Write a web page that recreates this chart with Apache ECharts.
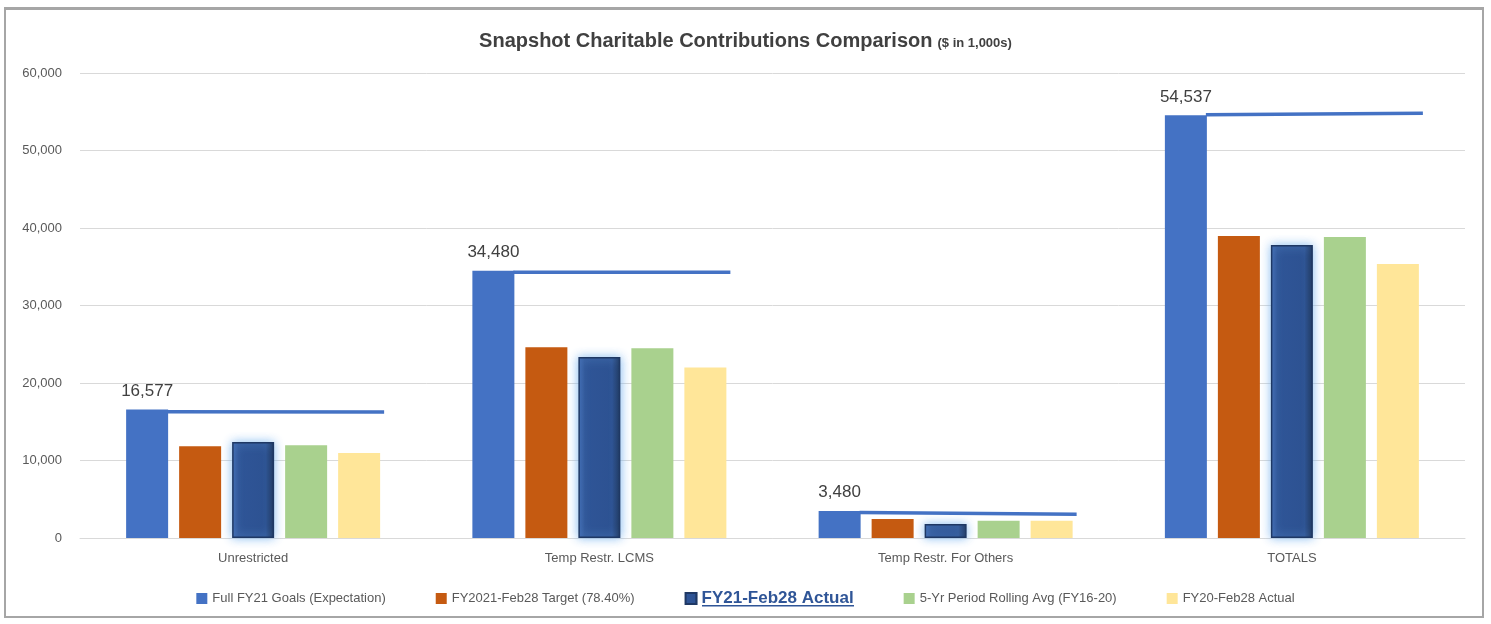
<!DOCTYPE html>
<html>
<head>
<meta charset="utf-8">
<script src="https://cdn.jsdelivr.net/npm/echarts@6/dist/echarts.min.js"></script>
<style>
html,body{margin:0;padding:0;background:#fff;}
#frame{position:absolute;left:4px;top:7px;width:1480px;height:611px;border:2px solid #A6A6A6;border-top-width:3px;box-sizing:border-box;}
#chart{position:absolute;left:0;top:0;width:1491px;height:624px;}
</style>
</head>
<body>
<div id="frame"></div>
<div id="chart"></div>
<script>
const categories = ['Unrestricted', 'Temp Restr. LCMS', 'Temp Restr. For Others', 'TOTALS'];
const seriesNames = ['Full FY21 Goals (Expectation)', 'FY2021-Feb28 Target (78.40%)', 'FY21-Feb28 Actual', '5-Yr Period Rolling Avg (FY16-20)', 'FY20-Feb28 Actual'];
const fullGoals = [16577, 34480, 3480, 54537];
const targetFeb28 = [11830, 24600, 2450, 38970];
const actualFeb28 = [12400, 23350, 1800, 37800];
const rollingAvg = [11960, 24500, 2230, 38840];
const actualFY20 = [10970, 22000, 2230, 35350];
const goalLineStart = [16300, 34300, 3300, 54600];
const goalLineEnd = [16260, 34280, 3050, 54800];
const yTicks = [0, 10000, 20000, 30000, 40000, 50000, 60000];

const chart = echarts.init(document.getElementById('chart'));
const FONT = 'Liberation Sans, Arial, sans-serif';
const BW = 42, GAP = 11;
const groupW = 5 * BW + 4 * GAP;

const actualGradient = new echarts.graphic.LinearGradient(0, 0, 1, 0, [
  {offset: 0, color: '#3d66ad'},
  {offset: 0.15, color: '#2F5597'},
  {offset: 0.8, color: '#2d5292'},
  {offset: 1, color: '#14284d'}
]);

const option = {
  animation: false,
  textStyle: {fontFamily: FONT},
  title: {
    text: '{a|Snapshot Charitable Contributions Comparison} {b|($ in 1,000s)}',
    left: 'center',
    top: 26,
    textStyle: {
      rich: {
        a: {fontFamily: FONT, fontSize: 20, fontWeight: 'bold', color: '#404040'},
        b: {fontFamily: FONT, fontSize: 13, fontWeight: 'bold', color: '#404040', padding: [5, 0, 0, 0]}
      }
    }
  },
  grid: {left: 80, right: 26, top: 73, bottom: 86},
  legend: {
    bottom: 12,
    left: 'center',
    icon: 'rect',
    itemWidth: 11,
    itemHeight: 11,
    itemGap: 50,
    textStyle: {fontFamily: FONT, fontSize: 13, color: '#595959'},
    data: [
      {name: seriesNames[0]},
      {name: seriesNames[1]},
      {name: seriesNames[2], textStyle: {fontSize: 17, fontWeight: 'bold', color: '#2F5597'}},
      {name: seriesNames[3]},
      {name: seriesNames[4]}
    ]
  },
  graphic: [{
    type: 'rect', left: 702, top: 605, silent: true,
    shape: {width: 152, height: 1.5},
    style: {fill: '#2F5597'}
  }],
  xAxis: {
    type: 'category',
    data: categories,
    axisTick: {show: false},
    axisLine: {lineStyle: {color: '#D9D9D9', width: 1}},
    axisLabel: {fontFamily: FONT, fontSize: 13, color: '#595959', margin: 14}
  },
  yAxis: {
    type: 'value',
    min: yTicks[0],
    max: yTicks[yTicks.length - 1],
    interval: 10000,
    axisLine: {show: false},
    axisTick: {show: false},
    splitLine: {lineStyle: {color: '#D9D9D9', width: 1}},
    axisLabel: {
      fontFamily: FONT, fontSize: 13, color: '#595959', margin: 18,
      formatter: v => v.toLocaleString('en-US')
    }
  },
  series: [
    {
      name: seriesNames[0], type: 'bar', data: fullGoals, barWidth: BW, barGap: (GAP / BW * 100) + '%',
      itemStyle: {color: '#4472C4'},
      label: {show: true, position: 'top', distance: 10, fontFamily: FONT, fontSize: 17, color: '#404040',
        formatter: p => p.value.toLocaleString('en-US')}
    },
    {name: seriesNames[1], type: 'bar', data: targetFeb28, barWidth: BW, itemStyle: {color: '#C55A11'}},
    {
      name: seriesNames[2], type: 'bar', data: actualFeb28, barWidth: BW,
      itemStyle: {color: actualGradient, borderColor: '#1F3864', borderWidth: 1.5,
        shadowBlur: 10, shadowColor: 'rgba(120,180,240,0.9)'}
    },
    {name: seriesNames[3], type: 'bar', data: rollingAvg, barWidth: BW, itemStyle: {color: '#A9D18E'}},
    {name: seriesNames[4], type: 'bar', data: actualFY20, barWidth: BW, itemStyle: {color: '#FFE699'}},
    {
      name: 'goalLine', type: 'custom', silent: true, z: 5,
      data: categories.map((c, i) => [i, goalLineStart[i], goalLineEnd[i]]),
      encode: {x: 0, y: [1, 2]},
      renderItem: function (params, api) {
        const idx = api.value(0);
        const p1 = api.coord([idx, api.value(1)]);
        const p2 = api.coord([idx, api.value(2)]);
        const cx = p1[0];
        const x1 = cx - groupW / 2 + BW - 1;
        const x2 = cx + groupW / 2 + 4;
        return {
          type: 'line',
          shape: {x1: x1, y1: p1[1], x2: x2, y2: p2[1]},
          style: {stroke: '#4472C4', lineWidth: 3.5}
        };
      }
    }
  ]
};
chart.setOption(option);
</script>
</body>
</html>
